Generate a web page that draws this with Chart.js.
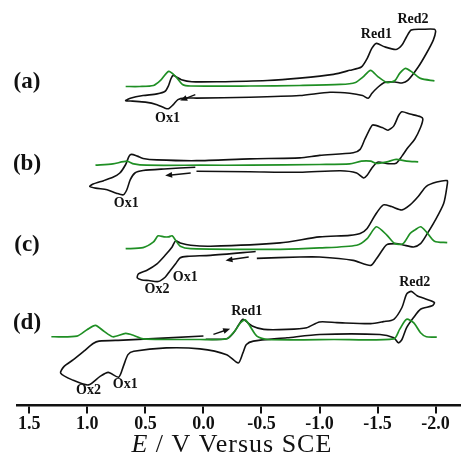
<!DOCTYPE html>
<html><head><meta charset="utf-8">
<script src="https://cdn.jsdelivr.net/npm/chart.js@4.4.1/dist/chart.umd.min.js"></script>
<style>html,body{margin:0;padding:0;background:#fff;}</style>
</head><body>
<canvas id="c" width="462" height="455"></canvas>
<script>
// ---- Data (E in V vs SCE, I in arbitrary current units relative to each panel baseline) ----
const E_TICKS = [1.5, 1.0, 0.5, 0.0, -0.5, -1.0, -1.5, -2.0];
const E_TICK_LABELS = ['1.5', '1.0', '0.5', '0.0', '-0.5', '-1.0', '-1.5', '-2.0'];
const PANELS = ['a', 'b', 'c', 'd'];
const PANEL_OFFSET = { a: 316, b: 238, c: 155, d: 66 };

// (a)
const cvA_E = [0.06,0.16,0.22,0.26,0.30,0.33,0.40,0.50,0.61,0.67,0.63,0.52,0.40,0.33,0.30,0.28,0.26,0.23,0.19,0.10,-0.12,-0.55,-0.83,-1.12,-1.26,-1.36,-1.41,-1.45,-1.49,-1.56,-1.66,-1.71,-1.75,-1.79,-1.89,-1.99,-2.00,-1.98,-1.92,-1.85,-1.76,-1.71,-1.65,-1.56,-1.50,-1.45,-1.42,-1.37,-1.26,-1.09,-0.83,-0.40,0.06];
const cvA_I = [-11.5,-11.5,-13,-18,-22,-21.5,-18,-15.5,-14.5,-14,-11.7,-9,-7.3,-4.7,1,7.7,11,9.3,6.7,4.7,4.7,6,8.3,12,16,19.3,27.7,37.7,42.7,39.3,36.7,41,49.3,56,56.7,56.7,54.3,46,32.7,19.3,6,3.5,4.5,4,-1,-7,-11.7,-9,-6.7,-5.7,-9,-10.7,-11.5];
const dpvA_E = [0.67,0.55,0.43,0.37,0.30,0.24,0.18,0.11,-0.40,-0.83,-1.18,-1.31,-1.37,-1.44,-1.50,-1.58,-1.65,-1.69,-1.74,-1.80,-1.87,-1.99];
const dpvA_I = [0,0,1,6,15,10,2,0.5,0.5,1,2,4,9,16,10,4,6,13,18,14,8,5.5];

// (b)
const cvB_E = [0.07,0.34,0.52,0.59,0.63,0.66,0.69,0.75,0.83,0.93,0.98,0.95,0.86,0.78,0.72,0.67,0.64,0.62,0.57,0.52,0.40,0.06,-0.40,-0.83,-1.00,-1.29,-1.35,-1.39,-1.44,-1.46,-1.54,-1.59,-1.64,-1.68,-1.71,-1.78,-1.87,-1.89,-1.87,-1.82,-1.76,-1.71,-1.66,-1.59,-1.50,-1.45,-1.41,-1.38,-1.32,-1.18,-0.83,-0.40,0.06];
const cvB_I = [-2,-3.7,-5.3,-7.7,-14.3,-24.3,-29.3,-27.7,-24.3,-22.7,-21,-18.7,-15.3,-12,-7.7,0.7,9,10.7,9,6.7,5.3,4.5,6.3,7.3,9.7,12.3,15.7,25.7,37.3,40,37.3,34.7,39,49,53,50.7,48,45.7,37.3,25.7,17.3,9,2,1.5,3,-3,-10,-12.7,-7.7,-5.5,-7,-6.5,-6];
const dpvB_E = [0.93,0.78,0.66,0.60,0.49,0.03,-0.40,-1.00,-1.26,-1.36,-1.44,-1.49,-1.58,-1.66,-1.75,-1.85];
const dpvB_I = [0,1.3,4,1.3,0,0,0,0.7,1.3,4,4,1.7,3.3,5.7,4,3.3];

// (c)
const cvC_E = [-0.45,-0.06,0.14,0.20,0.24,0.29,0.33,0.39,0.47,0.53,0.57,0.56,0.49,0.40,0.33,0.27,0.24,0.20,0.11,-0.06,-0.66,-1.00,-1.26,-1.35,-1.41,-1.48,-1.55,-1.62,-1.71,-1.78,-1.85,-1.92,-2.01,-2.10,-2.10,-2.07,-1.99,-1.92,-1.87,-1.81,-1.72,-1.66,-1.58,-1.54,-1.49,-1.44,-1.29,-1.00,-0.83,-0.46];
const cvC_I = [-2.5,-6.3,-7.3,-8.7,-14.7,-22,-28,-32.3,-31.3,-30.7,-28.7,-24.7,-21.3,-14.7,-6.3,2,8,6,3.7,2.7,6,12,13.5,15.3,20.3,33.7,43.7,42,38.7,43.7,52,62,66.3,67.7,63.7,45.3,27,13.7,5.3,2,4,5.3,4.3,-1.3,-9.7,-16.3,-11.3,-8,-8,-9.3];
const dpvC_E = [0.67,0.52,0.43,0.39,0.34,0.30,0.27,0.24,0.20,0.11,-0.66,-1.00,-1.32,-1.41,-1.49,-1.58,-1.65,-1.72,-1.78,-1.82,-1.87,-1.92,-1.99,-2.10];
const dpvC_I = [0.3,1.3,7,13,12,12,13,8.7,2.7,0.3,-0.3,1,3.7,10.3,22,13.7,5.3,5.3,15.3,18.7,22,17,7.7,6.3];

// (d)
const cvD_E = [-0.02,-0.20,-0.26,-0.31,-0.34,-0.42,-0.52,-0.72,-0.89,-1.00,-1.15,-1.44,-1.55,-1.64,-1.71,-1.75,-1.79,-1.84,-1.92,-1.99,-1.97,-1.87,-1.81,-1.75,-1.71,-1.68,-1.64,-1.52,-1.00,-0.72,-0.43,-0.37,-0.34,-0.30,-0.20,0.03,0.32,0.60,0.65,0.69,0.73,0.82,0.89,0.99,1.13,1.23,1.20,1.12,1.03,0.95,0.90,0.69,0.00];
const cvD_I = [-0.5,0,6,15,19.3,12.7,9.3,9.3,11,16.7,16,15,17,19.3,31,44.3,47,42.7,39.3,36,32.7,29.3,21,11,-0.7,-4,1,4.3,4.3,1,-2.3,-5.7,-14,-24,-15.7,-10,-9,-12.3,-15.7,-27.3,-38,-33.3,-37.3,-45.7,-40.7,-34,-27.3,-20.7,-12.3,-4.7,-2.3,-1.3,2.7];
const dpvD_E = [1.31,1.09,1.00,0.93,0.86,0.78,0.67,0.60,0.52,0.03,-0.20,-0.27,-0.32,-0.36,-0.40,-0.46,-0.55,-1.12,-1.64,-1.69,-1.75,-1.81,-1.87,-1.92,-2.01];
const dpvD_I = [2,2.7,9.3,13.3,7.7,2,5.3,3.3,0,-0.7,0,7.7,16,18.7,12.7,2.7,-0.7,-0.7,0,9.3,19.3,16,6,2,1.7];

// Text annotations (in data units: E, current relative to panel baseline)
const ANNOTATIONS = [
  { panel: 'a', text: '(a)', E: 1.52, I: 4, kind: 'panel' },
  { panel: 'b', text: '(b)', E: 1.52, I: 1, kind: 'panel' },
  { panel: 'c', text: '(c)', E: 1.52, I: 4, kind: 'panel' },
  { panel: 'd', text: '(d)', E: 1.52, I: 16, kind: 'panel' },
  { panel: 'a', text: 'Red1', E: -1.49, I: 52, kind: 'peak' },
  { panel: 'a', text: 'Red2', E: -1.805, I: 66, kind: 'peak' },
  { panel: 'a', text: 'Ox1', E: 0.31, I: -31.5, kind: 'peak' },
  { panel: 'b', text: 'Ox1', E: 0.665, I: -38, kind: 'peak' },
  { panel: 'c', text: 'Ox1', E: 0.157, I: -28, kind: 'peak' },
  { panel: 'c', text: 'Ox2', E: 0.40, I: -39.7, kind: 'peak' },
  { panel: 'd', text: 'Red2', E: -1.82, I: 56, kind: 'peak' },
  { panel: 'd', text: 'Red1', E: -0.373, I: 27, kind: 'peak' },
  { panel: 'd', text: 'Ox2', E: 0.99, I: -51, kind: 'peak' },
  { panel: 'd', text: 'Ox1', E: 0.674, I: -45, kind: 'peak' }
];
// Scan-direction arrows (from -> to, data units)
const ARROWS = [
  { panel: 'a', E0: 0.07, I0: -8, E1: 0.20, I1: -14 },
  { panel: 'b', E0: 0.11, I0: -7.7, E1: 0.33, I1: -10.3 },
  { panel: 'c', E0: -0.39, I0: -8, E1: -0.19, I1: -11.3 },
  { panel: 'd', E0: -0.086, I0: 4.3, E1: -0.23, I1: 10 }
];
const AXIS_TITLE_E = -0.245;

// ---- Build datasets ----
const BLACK = '#111111', GREEN = '#1f8f24';
function pts(E, I, panel) {
  const n = Math.min(E.length, I.length), off = PANEL_OFFSET[panel], out = [];
  for (let k = 0; k < n; k++) out.push({ x: E[k], y: off + I[k] });
  return out;
}
const series = {
  a: [cvA_E, cvA_I, dpvA_E, dpvA_I],
  b: [cvB_E, cvB_I, dpvB_E, dpvB_I],
  c: [cvC_E, cvC_I, dpvC_E, dpvC_I],
  d: [cvD_E, cvD_I, dpvD_E, dpvD_I]
};
const datasets = [];
PANELS.forEach(p => {
  const [cE, cI, dE, dI] = series[p];
  datasets.push({ label: 'DPV ' + p, data: pts(dE, dI, p), borderColor: GREEN, borderWidth: 1.7, showLine: true, pointRadius: 0, tension: 0.25, fill: false });
  datasets.push({ label: 'CV ' + p, data: pts(cE, cI, p), borderColor: BLACK, borderWidth: 1.6, showLine: true, pointRadius: 0, tension: 0.25, fill: false });
});

const annotPlugin = {
  id: 'annot',
  afterDraw(chart) {
    const ctx = chart.ctx, xs = chart.scales.x, ys = chart.scales.y;
    ctx.save();
    ctx.fillStyle = BLACK;
    ctx.textAlign = 'center';
    ctx.textBaseline = 'middle';
    ANNOTATIONS.forEach(a => {
      ctx.font = a.kind === 'panel' ? 'bold 23px "Liberation Serif"' : 'bold 14px "Liberation Serif"';
      ctx.fillText(a.text, xs.getPixelForValue(a.E), ys.getPixelForValue(PANEL_OFFSET[a.panel] + a.I));
    });
    // arrows
    ctx.strokeStyle = BLACK; ctx.lineWidth = 1.4;
    ARROWS.forEach(a => {
      const x0 = xs.getPixelForValue(a.E0), y0 = ys.getPixelForValue(PANEL_OFFSET[a.panel] + a.I0);
      const x1 = xs.getPixelForValue(a.E1), y1 = ys.getPixelForValue(PANEL_OFFSET[a.panel] + a.I1);
      const ang = Math.atan2(y1 - y0, x1 - x0), L = 7, W = 3;
      ctx.beginPath(); ctx.moveTo(x0, y0); ctx.lineTo(x1 - Math.cos(ang) * 4, y1 - Math.sin(ang) * 4); ctx.stroke();
      ctx.beginPath();
      ctx.moveTo(x1, y1);
      ctx.lineTo(x1 - L * Math.cos(ang) + W * Math.sin(ang), y1 - L * Math.sin(ang) - W * Math.cos(ang));
      ctx.lineTo(x1 - L * Math.cos(ang) - W * Math.sin(ang), y1 - L * Math.sin(ang) + W * Math.cos(ang));
      ctx.closePath(); ctx.fill();
    });
    // axis title with italic E
    const cx = xs.getPixelForValue(AXIS_TITLE_E), by = 452;
    const f1 = 'italic 26px "Liberation Serif"', f2 = '26px "Liberation Serif"';
    ctx.textBaseline = 'alphabetic'; ctx.textAlign = 'left';
    if ('letterSpacing' in ctx) ctx.letterSpacing = '1px';
    ctx.font = f1; const w1 = ctx.measureText('E').width;
    ctx.font = f2; const rest = ' / V Versus SCE'; const w2 = ctx.measureText(rest).width;
    let x = cx - (w1 + w2) / 2;
    ctx.font = f1; ctx.fillText('E', x, by);
    ctx.font = f2; ctx.fillText(rest, x + w1, by);
    ctx.restore();
  }
};

new Chart(document.getElementById('c'), {
  type: 'scatter',
  data: { datasets },
  options: {
    responsive: false, animation: false, devicePixelRatio: 1,
    layout: { padding: { left: 17, right: 2, top: 0, bottom: 20 } },
    plugins: { legend: { display: false }, tooltip: { enabled: false } },
    scales: {
      x: {
        type: 'linear', reverse: true, min: -2.21, max: 1.606,
        afterBuildTicks: s => { s.ticks = E_TICKS.map(v => ({ value: v })); },
        ticks: { callback: (v, i) => E_TICK_LABELS[i], font: { family: 'Liberation Serif', size: 18, weight: 'bold' }, color: BLACK, padding: 0, maxRotation: 0, autoSkip: false },
        grid: { drawOnChartArea: false, drawTicks: true, tickLength: 8, color: BLACK, lineWidth: 2 },
        border: { display: true, color: BLACK, width: 2.5 }
      },
      y: { display: false, min: 0, max: 401.7 }
    }
  },
  plugins: [annotPlugin]
});
</script>
</body></html>
